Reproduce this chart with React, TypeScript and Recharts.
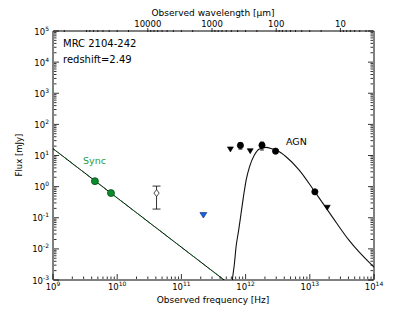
import { ComposedChart, Line, Scatter, XAxis, YAxis, ErrorBar } from 'recharts';

const C_UM = 2.998e14; // speed of light in micron/s

// synchrotron detections (Hz, mJy)
const syncNu = [4.5e9, 8.0e9];
const syncFlux = [1.5, 0.62];

// synchrotron power-law fit
const syncLineNu = [1e9, 1e12];
const syncLineFlux = [16.6, 2.95e-4];

// mm point with error bar (open diamond)
const mmNu = [4.1e10];
const mmFlux = [0.62];
const mmLow = [0.19];
const mmHigh = [1.04];

// blue upper limit
const blueLimNu = [2.2e11];
const blueLimFlux = [0.12];

// IR detections
const irNu = [8.3e11, 1.8e12, 2.93e12, 1.2e13];
const irFlux = [21, 21.4, 13.8, 0.68];
const irLow = [16, 15, 13.8, 0.68];
const irHigh = [26, 27, 13.8, 0.68];

// IR upper limits
const irLimNu = [5.8e11, 1.18e12, 1.87e13];
const irLimFlux = [15.7, 13.8, 0.21];

// AGN model curve
const agnNu = [
  6.0e11, 6.3e11, 6.7e11, 7.1e11, 7.8e11, 8.5e11, 9.25e11, 1.02e12, 1.15e12, 1.37e12,
  1.64e12, 2.08e12, 2.63e12, 3.16e12, 4.27e12, 6.84e12, 1.2e13, 2.24e13, 4.07e13, 9.3e13, 1.0e14,
];
const agnFlux = [
  5.0e-4, 1.26e-3, 3.4e-3, 1.15e-2, 4.0e-2, 0.138, 0.47, 1.62, 4.3, 10.3,
  16.1, 18.2, 16.1, 14.1, 9.1, 3.4, 0.68, 0.107, 0.019, 3.0e-3, 2.6e-3,
];

// ticks
const xDecades = [9, 10, 11, 12, 13, 14];
const yDecades = [-3, -2, -1, 0, 1, 2, 3, 4, 5];
const minorMult = [2, 3, 4, 5, 6, 7, 8, 9];
const lamMajor = [10000, 1000, 100, 10];
const lamMinor = [
  200000, 90000, 80000, 70000, 60000, 50000, 40000, 30000, 20000,
  9000, 8000, 7000, 6000, 5000, 4000, 3000, 2000,
  900, 800, 700, 600, 500, 400, 300, 200,
  90, 80, 70, 60, 50, 40, 30, 20,
  9, 8, 7, 6, 5, 4,
];

const FONT = 'DejaVu Sans, sans-serif';

const withMinors = (decades: number[]) => {
  const out: number[] = [];
  decades.forEach((d, i) => {
    out.push(Math.pow(10, d));
    if (i < decades.length - 1) minorMult.forEach((m) => out.push(m * Math.pow(10, d)));
  });
  return out;
};

const xTicks = withMinors(xDecades);
const yTicks = withMinors(yDecades);
const topTicks = [...lamMajor, ...lamMinor].map((l) => C_UM / l);

const isDecade = (v: number) => {
  const e = Math.log10(v);
  return Math.abs(e - Math.round(e)) < 1e-6;
};

const Pow = ({ x, y, exp, anchor }: any) => (
  <text x={x} y={y} textAnchor={anchor} fontFamily={FONT} fontSize={8.5} fill="#000">
    <tspan>10</tspan>
    <tspan dy={-4} fontSize={6}>{exp}</tspan>
  </text>
);

// axes are 1px thick, so tick coords sit 1px off the plot edge
const BottomTick = (props: any) => {
  const { x, payload } = props;
  const y = props.y - 1;
  const major = isDecade(payload.value);
  return (
    <g>
      <line x1={x} x2={x} y1={y} y2={y - (major ? 5 : 2.5)} stroke="#000" strokeWidth={0.8} />
      {major && <Pow x={x} y={y + 11} exp={Math.round(Math.log10(payload.value))} anchor="middle" />}
    </g>
  );
};

const LeftTick = (props: any) => {
  const { y, payload } = props;
  const x = props.x + 1;
  const major = isDecade(payload.value);
  return (
    <g>
      <line x1={x} x2={x + (major ? 5 : 2.5)} y1={y} y2={y} stroke="#000" strokeWidth={0.8} />
      {major && <Pow x={x - 5} y={y + 3.5} exp={Math.round(Math.log10(payload.value))} anchor="end" />}
    </g>
  );
};

const RightTick = (props: any) => {
  const { y, payload } = props;
  const x = props.x - 1;
  const major = isDecade(payload.value);
  return <line x1={x} x2={x - (major ? 5 : 2.5)} y1={y} y2={y} stroke="#000" strokeWidth={0.8} />;
};

const TopTick = (props: any) => {
  const { x, payload } = props;
  const y = props.y + 1;
  const lam = C_UM / payload.value;
  const label = lamMajor.find((l) => Math.abs(l - lam) / l < 1e-6);
  return (
    <g>
      <line x1={x} x2={x} y1={y} y2={y - (label ? 4 : 2)} stroke="#000" strokeWidth={0.8} />
      {label && (
        <text x={x} y={y - 5} textAnchor="middle" fontFamily={FONT} fontSize={8.5} fill="#000">
          {label}
        </text>
      )}
    </g>
  );
};

const circleShape = (fill: string, stroke: string, r: number) => (p: any) => (
  <circle cx={p.cx} cy={p.cy} r={r} fill={fill} stroke={stroke} strokeWidth={0.8} />
);

const triDownShape = (fill: string, stroke: string, w: number, h: number) => (p: any) => (
  <path
    d={`M${p.cx - w / 2},${p.cy - h / 2}L${p.cx + w / 2},${p.cy - h / 2}L${p.cx},${p.cy + h / 2}Z`}
    fill={fill}
    stroke={stroke}
    strokeWidth={0.6}
  />
);

const diamondShape = (p: any) => (
  <path
    d={`M${p.cx},${p.cy - 3.5}L${p.cx + 2.6},${p.cy}L${p.cx},${p.cy + 3.5}L${p.cx - 2.6},${p.cy}Z`}
    fill="#fff"
    stroke="#000"
    strokeWidth={0.7}
  />
);

const zip = (nu: number[], f: number[]) => nu.map((n, i) => ({ nu: n, f: f[i] }));

const syncData = zip(syncNu, syncFlux);
const syncLineData = zip(syncLineNu, syncLineFlux);
const mmData = mmNu.map((n, i) => ({ nu: n, f: mmFlux[i], err: [mmFlux[i] - mmLow[i], mmHigh[i] - mmFlux[i]] }));
const blueData = zip(blueLimNu, blueLimFlux);
const irData = irNu.map((n, i) => ({ nu: n, f: irFlux[i], err: [irFlux[i] - irLow[i], irHigh[i] - irFlux[i]] }));
const irLimData = zip(irLimNu, irLimFlux);
const agnData = zip(agnNu, agnFlux);

const axisLine = { stroke: '#000', strokeWidth: 1 };

export default function App() {
  return (
    <div style={{ position: 'absolute', left: 0, top: 0, width: 416, height: 312, background: '#fff' }}>
      <ComposedChart width={416} height={312} margin={{ top: 30, right: 41, bottom: 31, left: 52 }}>
        <XAxis
          xAxisId="b"
          dataKey="nu"
          type="number"
          scale="log"
          domain={[1e9, 1e14]}
          allowDataOverflow
          ticks={xTicks}
          interval={0}
          height={1}
          tickSize={0}
          tickMargin={0}
          tickLine={false}
          tick={BottomTick}
          axisLine={axisLine}
        />
        <XAxis
          xAxisId="t"
          orientation="top"
          dataKey="nu"
          type="number"
          scale="log"
          domain={[1e9, 1e14]}
          allowDataOverflow
          ticks={topTicks}
          interval={0}
          height={1}
          tickSize={0}
          tickMargin={0}
          tickLine={false}
          tick={TopTick}
          axisLine={axisLine}
        />
        <YAxis
          yAxisId="l"
          dataKey="f"
          type="number"
          scale="log"
          domain={[1e-3, 1e5]}
          allowDataOverflow
          ticks={yTicks}
          interval={0}
          width={1}
          tickSize={0}
          tickMargin={0}
          tickLine={false}
          tick={LeftTick}
          axisLine={axisLine}
        />
        <YAxis
          yAxisId="r"
          orientation="right"
          dataKey="f"
          type="number"
          scale="log"
          domain={[1e-3, 1e5]}
          allowDataOverflow
          ticks={yTicks}
          interval={0}
          width={1}
          tickSize={0}
          tickMargin={0}
          tickLine={false}
          tick={RightTick}
          axisLine={axisLine}
        />
        <Line
          xAxisId="b"
          yAxisId="l"
          data={syncLineData}
          dataKey="f"
          type="linear"
          stroke="#000"
          strokeWidth={1}
          dot={false}
          activeDot={false}
          isAnimationActive={false}
        />
        <Line
          xAxisId="b"
          yAxisId="l"
          data={syncLineData}
          dataKey="f"
          type="linear"
          stroke="#0a6a1e"
          strokeWidth={1}
          strokeDasharray="4 3"
          dot={false}
          activeDot={false}
          isAnimationActive={false}
        />
        <Line
          xAxisId="b"
          yAxisId="l"
          data={agnData}
          dataKey="f"
          type="monotone"
          stroke="#111"
          strokeWidth={1.1}
          dot={false}
          activeDot={false}
          isAnimationActive={false}
        />
        <Scatter xAxisId="b" yAxisId="l" data={syncData} dataKey="f" shape={circleShape('#0b8a2b', '#0a4d1a', 3.5)} isAnimationActive={false} />
        <Scatter xAxisId="b" yAxisId="l" data={mmData} dataKey="f" shape={diamondShape} isAnimationActive={false}>
          <ErrorBar dataKey="err" direction="y" width={4} stroke="#000" strokeWidth={0.8} />
        </Scatter>
        <Scatter xAxisId="b" yAxisId="l" data={blueData} dataKey="f" shape={triDownShape('#1560e8', '#0b2a6b', 7, 5.5)} isAnimationActive={false} />
        <Scatter xAxisId="b" yAxisId="l" data={irData} dataKey="f" shape={circleShape('#000', '#000', 3.1)} isAnimationActive={false}>
          <ErrorBar dataKey="err" direction="y" width={2} stroke="#000" strokeWidth={0.8} />
        </Scatter>
        <Scatter xAxisId="b" yAxisId="l" data={irLimData} dataKey="f" shape={triDownShape('#000', '#000', 6, 5)} isAnimationActive={false} />
      </ComposedChart>
      <svg width={416} height={312} style={{ position: 'absolute', left: 0, top: 0, pointerEvents: 'none' }}>
        <text x={213} y={15.5} textAnchor="middle" fontFamily={FONT} fontSize={9} fill="#000">
          Observed wavelength [μm]
        </text>
        <text x={213} y={303} textAnchor="middle" fontFamily={FONT} fontSize={9} fill="#000">
          Observed frequency [Hz]
        </text>
        <text x={22} y={155} textAnchor="middle" fontFamily={FONT} fontSize={8.5} fill="#000" transform="rotate(-90 22 155)">
          Flux [mJy]
        </text>
        <text x={63} y={47} fontFamily={FONT} fontSize={10} fill="#000">MRC 2104-242</text>
        <text x={63} y={63} fontFamily={FONT} fontSize={10} fill="#000">redshift=2.49</text>
        <text x={83} y={164} fontFamily={FONT} fontSize={9.5} fill="#1e9e3e">Sync</text>
        <text x={286} y={145} fontFamily={FONT} fontSize={9.5} fill="#000">AGN</text>
      </svg>
    </div>
  );
}
